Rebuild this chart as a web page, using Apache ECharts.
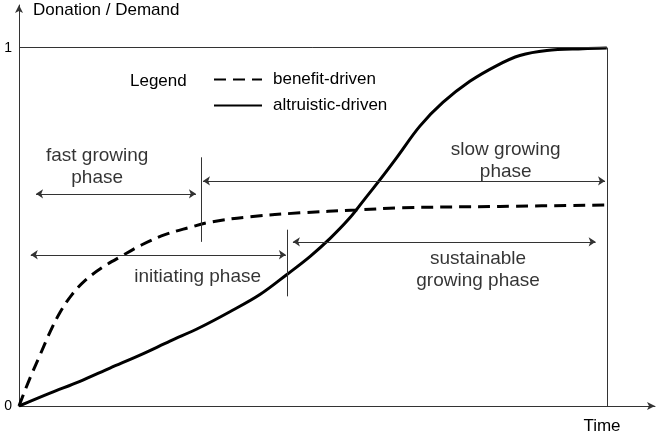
<!DOCTYPE html>
<html>
<head>
<meta charset="utf-8">
<script src="https://cdn.jsdelivr.net/npm/echarts@6/dist/echarts.min.js"></script>
<style>
	html, body { margin: 0; padding: 0; background: #fff; }
	#chart { width: 658px; height: 435px; }
</style>
</head>
<body>
<div id="chart"></div>
<script>
	// curves (time 0..10, donation/demand 0..1)
	const benefitTime = [0, 0.051, 0.187, 0.357, 0.527, 0.697, 0.901, 1.122, 1.412, 1.752, 2.092, 2.483, 2.874, 3.282, 3.929, 4.779, 5.748, 6.48, 8.18, 10];
	const benefitDriven = [0, 0.022, 0.078, 0.142, 0.206, 0.261, 0.311, 0.35, 0.386, 0.419, 0.45, 0.478, 0.497, 0.514, 0.528, 0.539, 0.547, 0.553, 0.557, 0.561];
	const altruisticTime = [0, 0.527, 1.037, 1.548, 2.058, 2.568, 3.078, 3.588, 4.099, 4.558, 4.949, 5.289, 5.629, 5.884, 6.139, 6.429, 6.82, 7.211, 7.67, 8.129, 8.52, 8.98, 9.592, 10];
	const altruisticDriven = [0, 0.036, 0.069, 0.106, 0.142, 0.181, 0.219, 0.263, 0.311, 0.367, 0.417, 0.467, 0.525, 0.578, 0.631, 0.694, 0.781, 0.847, 0.906, 0.95, 0.978, 0.992, 0.997, 0.999];

	// phase boundaries (vertical marks)
	const boundaryTime = [3.1, 4.56];
	const boundaryLow = [0.458, 0.306];
	const boundaryHigh = [0.694, 0.492];

	// phase arrows
	const arrowStart = [0.29, 3.13, 0.2, 4.66];
	const arrowEnd = [3.01, 9.97, 4.54, 9.81];
	const arrowLevel = [0.592, 0.628, 0.422, 0.458];

	// phase labels
	const phaseNames = ['fast growing\nphase', 'slow growing\nphase', 'initiating phase', 'sustainable\ngrowing phase'];
	const labelTime = [1.33, 8.28, 3.04, 7.81];
	const labelLevel = [0.667, 0.685, 0.361, 0.379];

	const yTicks = [0, 1];
	const timeEnd = 10;

	const font = 'Liberation Sans, Arial, sans-serif';
	const lineColor = '#333';

	let myChart = echarts.init(document.getElementById('chart'));

	let zip = (xs, ys) => xs.map((x, i) => [x, ys[i]]);

	let guideLines = [
		[{ coord: [0, 1] }, { coord: [timeEnd, 1] }],
		[{ coord: [timeEnd, 0] }, { coord: [timeEnd, 1] }]
	].concat(boundaryTime.map((t, i) => [{ coord: [t, boundaryLow[i]] }, { coord: [t, boundaryHigh[i]] }]));

	let arrowLines = arrowStart.map((s, i) => [{ coord: [s, arrowLevel[i]] }, { coord: [arrowEnd[i], arrowLevel[i]] }]);

	let options = {
		animation: false,
		backgroundColor: '#fff',
		textStyle: { fontFamily: font },
		grid: { left: 19, right: 3, top: 5, bottom: 27 },
		legend: {
			orient: 'vertical',
			left: 208,
			top: 66,
			itemWidth: 48,
			itemHeight: 14,
			itemGap: 9,
			data: ['benefit-driven', 'altruistic-driven'],
			itemStyle: { opacity: 0 },
			textStyle: { fontSize: 17, color: '#000', fontFamily: font, padding: [0, 0, 0, 6] },
			selectedMode: false
		},
		graphic: [{
			type: 'text',
			left: 130,
			top: 73,
			style: { text: 'Legend', font: '17px ' + font, fill: '#000' }
		}],
		xAxis: {
			type: 'value',
			min: 0,
			max: 10.82,
			name: 'Time',
			nameLocation: 'end',
			nameGap: -53,
			nameTextStyle: { fontSize: 17, color: '#000', align: 'center', verticalAlign: 'top', padding: [12, 0, 0, 0] },
			axisLine: { lineStyle: { color: lineColor, width: 1 }, symbol: ['none', 'arrow'], symbolSize: [6, 8] },
			axisTick: { show: false },
			axisLabel: { show: false },
			splitLine: { show: false }
		},
		yAxis: {
			type: 'value',
			min: 0,
			max: 1.119,
			interval: 1,
			name: 'Donation / Demand',
			nameLocation: 'end',
			nameGap: -5,
			nameTextStyle: { fontSize: 17, color: '#000', align: 'left', verticalAlign: 'middle', padding: [0, 0, 0, 14] },
			axisLine: { show: true, lineStyle: { color: lineColor, width: 1 }, symbol: ['none', 'arrow'], symbolSize: [6, 8] },
			axisTick: { show: false },
			axisLabel: {
				fontSize: 14,
				color: '#000',
				margin: 7,
				formatter: v => yTicks.includes(v) ? String(v) : ''
			},
			splitLine: { show: false }
		},
		series: [
			{
				name: 'benefit-driven',
				type: 'line',
				smooth: 0.35,
				symbol: 'none',
				lineStyle: { color: '#000', width: 3, type: [12, 7] },
				itemStyle: { color: '#000' },
				data: zip(benefitTime, benefitDriven)
			},
			{
				name: 'altruistic-driven',
				type: 'line',
				smooth: 0.35,
				symbol: 'none',
				lineStyle: { color: '#000', width: 3 },
				itemStyle: { color: '#000' },
				data: zip(altruisticTime, altruisticDriven)
			},
			{
				name: 'guides',
				type: 'line',
				data: [],
				markLine: {
					silent: true,
					symbol: ['none', 'none'],
					label: { show: false },
					lineStyle: { color: lineColor, width: 1, type: 'solid' },
					data: guideLines
				}
			},
			{
				name: 'arrows',
				type: 'line',
				data: [],
				markLine: {
					silent: true,
					symbol: ['arrow', 'arrow'],
					symbolSize: 7,
					label: { show: false },
					lineStyle: { color: lineColor, width: 1, type: 'solid' },
					data: arrowLines
				}
			},
			{
				name: 'phases',
				type: 'scatter',
				symbolSize: 1,
				itemStyle: { color: 'rgba(0,0,0,0)' },
				silent: true,
				label: {
					show: true,
					position: 'inside',
					fontSize: 19,
					lineHeight: 22,
					color: '#000',
					align: 'center',
					formatter: p => p.name
				},
				data: phaseNames.map((n, i) => ({ name: n, value: [labelTime[i], labelLevel[i]] }))
			}
		]
	};

	myChart.setOption(options);
</script>
</body>
</html>
